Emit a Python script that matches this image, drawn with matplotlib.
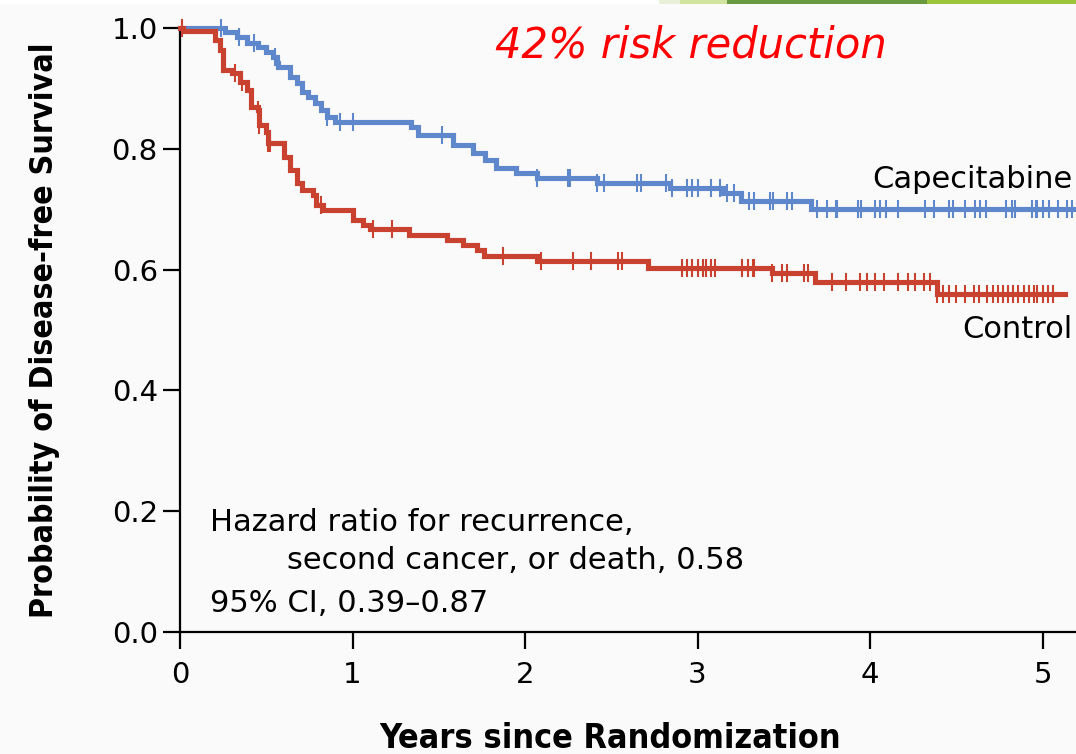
import numpy as np
import matplotlib
matplotlib.use("Agg")
import matplotlib.pyplot as plt
from matplotlib.patches import Rectangle

# ---------------- data ----------------
cap_times = [0.0, 0.26, 0.33, 0.39, 0.45, 0.50, 0.54, 0.56, 0.57, 0.64, 0.68, 0.71, 0.74,
             0.78, 0.82, 0.85, 0.90, 1.34, 1.38, 1.58, 1.70, 1.77, 1.83, 1.95, 2.07,
             2.42, 2.84, 3.15, 3.25, 3.66]
cap_surv = [1.0, 0.993, 0.985, 0.975, 0.969, 0.960, 0.952, 0.942, 0.935, 0.919, 0.909, 0.894, 0.886,
            0.876, 0.864, 0.853, 0.845, 0.836, 0.823, 0.806, 0.793, 0.781, 0.768, 0.760, 0.752,
            0.743, 0.735, 0.727, 0.714, 0.700]
cap_end = 5.19
cap_censor = [0.24, 0.34, 0.43, 0.55, 0.85, 0.93, 1.00, 1.52, 2.07, 2.26, 2.25, 2.42, 2.46, 2.65,
              2.67, 2.82, 2.85, 2.94, 2.97, 3.00, 3.08, 3.13, 3.17, 3.21, 3.30, 3.33, 3.42,
              3.44, 3.52, 3.55, 3.69, 3.75, 3.80, 3.81, 3.93, 3.95, 4.03, 4.06, 4.09, 4.16,
              4.32, 4.37, 4.46, 4.48, 4.55, 4.61, 4.64, 4.67, 4.79, 4.82, 4.84, 4.94, 4.96,
              4.97, 5.00, 5.04, 5.09, 5.14, 5.17]

ctl_times = [0.0, 0.02, 0.20, 0.23, 0.25, 0.30, 0.35, 0.39, 0.41, 0.45, 0.46, 0.50, 0.51,
             0.60, 0.64, 0.68, 0.71, 0.77, 0.79, 0.83, 1.00, 1.06, 1.10, 1.33, 1.55, 1.64,
             1.72, 1.76, 2.07, 2.71, 3.43, 3.68, 4.39]
ctl_surv = [1.0, 0.995, 0.980, 0.964, 0.930, 0.925, 0.911, 0.897, 0.870, 0.864, 0.840, 0.828, 0.810,
            0.786, 0.765, 0.743, 0.732, 0.724, 0.707, 0.699, 0.682, 0.674, 0.667, 0.657, 0.649, 0.641,
            0.632, 0.622, 0.615, 0.603, 0.594, 0.580, 0.560]
ctl_end = 5.13
ctl_censor = [0.01, 0.32, 0.36, 0.45, 0.46, 0.51, 0.52, 0.82, 1.12, 1.23, 1.87, 2.09, 2.28, 2.38,
              2.54, 2.56, 2.91, 2.94, 2.97, 3.00, 3.03, 3.05, 3.08, 3.10, 3.26, 3.29, 3.32,
              3.33, 3.43, 3.49, 3.52, 3.62, 3.64, 3.78, 3.86, 3.94, 3.98, 4.03, 4.08, 4.16,
              4.22, 4.26, 4.31, 4.35, 4.39, 4.42, 4.46, 4.50, 4.55, 4.60, 4.63, 4.68, 4.71,
              4.74, 4.77, 4.80, 4.83, 4.86, 4.89, 4.92, 4.95, 4.97, 5.00, 5.03, 5.06]

x_ticks = [0, 1, 2, 3, 4, 5]
y_ticks = [0.0, 0.2, 0.4, 0.6, 0.8, 1.0]
y_ticklabels = ["0.0", "0.2", "0.4", "0.6", "0.8", "1.0"]

BLUE = "#5f87cb"
RED = "#c9412f"
BG = "#fafafa"

W, H = 1076, 754
fig = plt.figure(figsize=(W / 100, H / 100), dpi=100, facecolor=BG)

def fx(px):
    return px / W

def fy(py):
    return 1 - py / H

ax = fig.add_axes([fx(180), fy(632), fx(1075) - fx(180), fy(28) - fy(632)])
ax.set_facecolor(BG)
ax.set_xlim(0, 5.188)
ax.set_ylim(0, 1.0)

def draw_curve(times, surv, end, censor, color):
    t = np.array(times + [end])
    s = np.array(surv + [surv[-1]])
    ax.step(t, s, where="post", color=color, lw=3.7, clip_on=False, zorder=3,
            solid_joinstyle="miter")
    c = np.array(censor)
    idx = np.searchsorted(np.array(times), c, side="right") - 1
    cs = np.array(surv)[idx]
    ax.plot(c, cs, linestyle="none", marker="|", markersize=13, mew=1.5,
            color=color, clip_on=False, zorder=3)

draw_curve(cap_times, cap_surv, cap_end, cap_censor, BLUE)
draw_curve(ctl_times, ctl_surv, ctl_end, ctl_censor, RED)

for side in ["top", "right"]:
    ax.spines[side].set_visible(False)
for side in ["left", "bottom"]:
    ax.spines[side].set_linewidth(1.6)
    ax.spines[side].set_color("black")

ax.set_xticks(x_ticks)
ax.set_xticklabels([str(v) for v in x_ticks])
ax.set_yticks(y_ticks)
ax.set_yticklabels(y_ticklabels)
ax.tick_params(axis="both", direction="out", length=12, width=1.6, colors="black",
               labelsize=21)
ax.tick_params(axis="y", pad=4)
ax.tick_params(axis="x", pad=9)

# axis labels
fig.text(fx(45), fy(330), "Probability of Disease-free Survival", rotation=90,
         ha="center", va="center", fontsize=23, fontweight="bold",
         fontstretch="condensed", family="DejaVu Sans")
fig.text(fx(610), fy(738), "Years since Randomization", ha="center", va="center",
         fontsize=24.5, fontweight="bold", fontstretch="condensed", family="DejaVu Sans")

# annotations
fig.text(fx(495), fy(57), "42% risk reduction", color="red", fontsize=30,
         style="italic", ha="left", va="baseline")
fig.text(fx(1073), fy(188), "Capecitabine", fontsize=22, ha="right", va="baseline")
fig.text(fx(1073), fy(338), "Control", fontsize=22, ha="right", va="baseline")
fig.text(fx(210), fy(531), "Hazard ratio for recurrence,", fontsize=22, ha="left", va="baseline")
fig.text(fx(287), fy(569), "second cancer, or death, 0.58", fontsize=22, ha="left", va="baseline")
fig.text(fx(210), fy(612), "95% CI, 0.39\u20130.87", fontsize=22, ha="left", va="baseline")

# slide decoration strip at the top
fig.patches.append(Rectangle((0, fy(4)), 1, fy(0) - fy(4), transform=fig.transFigure,
                             facecolor="white", edgecolor="none"))
for x0, x1, col in [(659, 680, "#e8f0d8"), (680, 727, "#d0e4a0"),
                    (727, 927, "#6a9a40"), (927, 1076, "#9cc43c")]:
    fig.patches.append(Rectangle((fx(x0), fy(4)), fx(x1) - fx(x0), fy(0) - fy(4),
                                 transform=fig.transFigure, facecolor=col, edgecolor="none"))

fig.savefig("out.png", dpi=100, facecolor=BG)
